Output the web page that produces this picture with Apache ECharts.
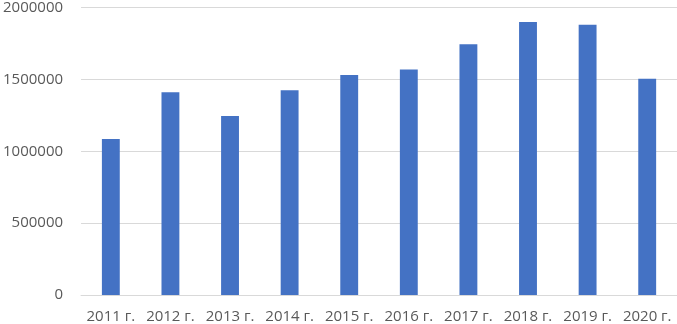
<!DOCTYPE html>
<html><head><meta charset="utf-8">
<script src="https://cdn.jsdelivr.net/npm/echarts@6/dist/echarts.min.js"></script>
<style>html,body{margin:0;padding:0;background:#fff}#c{width:677px;height:324px}</style>
</head><body><div id="c"></div>
<script>
const categories = ['2011 г.','2012 г.','2013 г.','2014 г.','2015 г.','2016 г.','2017 г.','2018 г.','2019 г.','2020 г.'];
const values = [1085000,1410000,1245000,1425000,1530000,1568000,1745000,1900000,1880000,1505000];
const yTicks = [0,500000,1000000,1500000,2000000];
const chart = echarts.init(document.getElementById('c'));
chart.setOption({
  animation:false,
  grid:{left:80,right:-3,top:5,bottom:29,containLabel:false},
  xAxis:{type:'category',data:categories,
    axisLine:{show:true,lineStyle:{color:'#d9d9d9'}},axisTick:{show:false},
    axisLabel:{color:'#595959',fontSize:15,fontFamily:'Open Sans',margin:14,interval:0}},
  yAxis:{type:'value',min:yTicks[0],max:yTicks[yTicks.length-1],interval:500000,
    axisLine:{show:false},axisTick:{show:false},
    splitLine:{lineStyle:{color:'#d9d9d9'}},
    axisLabel:{color:'#595959',fontSize:15,fontFamily:'Open Sans',margin:18,formatter:v=>String(v)}},
  series:[{type:'bar',data:values,barWidth:'30%',itemStyle:{color:'#4472C4'}}]
});
</script></body></html>
